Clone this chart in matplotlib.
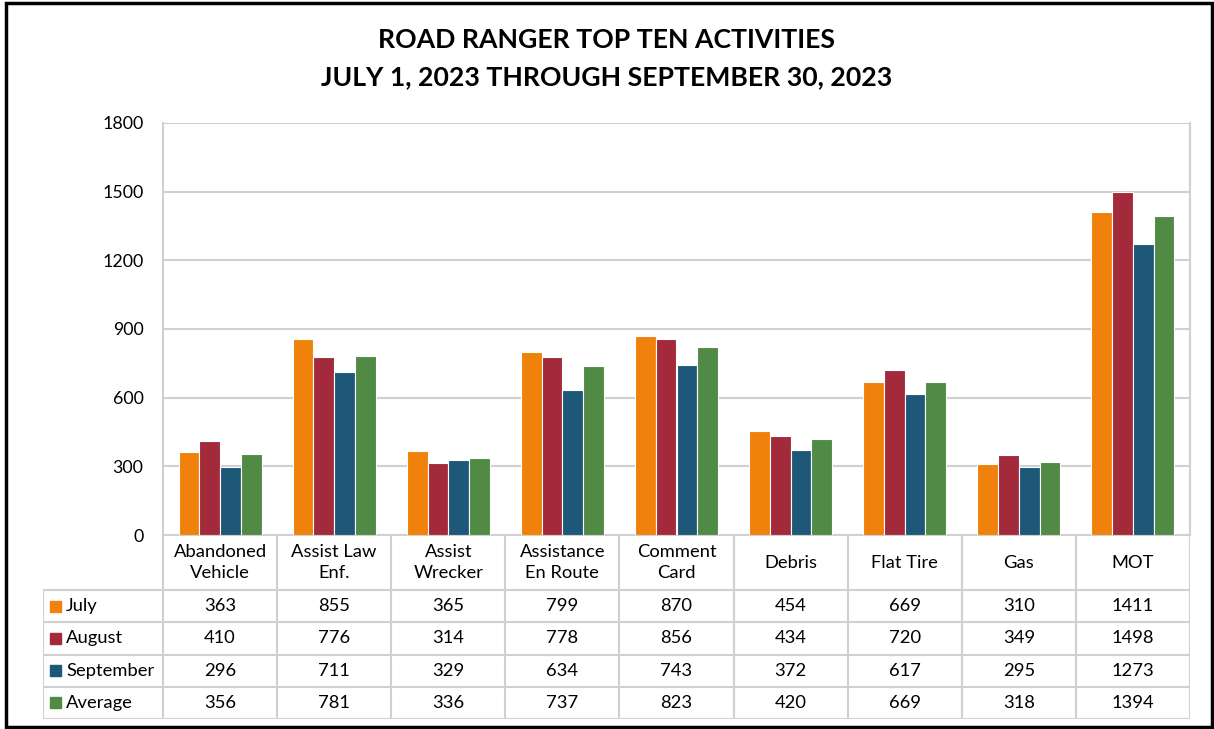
import matplotlib.pyplot as plt
from matplotlib.patches import Rectangle
import numpy as np

plt.rcParams['font.family'] = ['Lato', 'DejaVu Sans']

categories = ['Abandoned\nVehicle', 'Assist Law\nEnf.', 'Assist\nWrecker', 'Assistance\nEn Route',
              'Comment\nCard', 'Debris', 'Flat Tire', 'Gas', 'MOT']
series_names = ['July', 'August', 'September', 'Average']
july = [363, 855, 365, 799, 870, 454, 669, 310, 1411]
august = [410, 776, 314, 778, 856, 434, 720, 349, 1498]
september = [296, 711, 329, 634, 743, 372, 617, 295, 1273]
average = [356, 781, 336, 737, 823, 420, 669, 318, 1394]
series = [july, august, september, average]
colors = ['#F0820B', '#A22A3A', '#1E5878', '#508A45']
yticks = [0, 300, 600, 900, 1200, 1500, 1800]

W, H = 1214, 729
fig = plt.figure(figsize=(W / 100, H / 100), dpi=100)

# outer frame
fig.patches.append(Rectangle((6 / W, 2 / H), (W - 8) / W, (H - 5) / H, transform=fig.transFigure,
                             fill=False, edgecolor='black', linewidth=2.5))

grid_c = '#D0D0D0'
px_l, px_r, px_t, px_b = 163, 1190, 123, 535
ax = fig.add_axes([px_l / W, 1 - px_b / H, (px_r - px_l) / W, (px_b - px_t) / H])

n = len(categories)
x = np.arange(n)
bw = 0.182
for i, (vals, c) in enumerate(zip(series, colors)):
    ax.bar(x + (i - 1.5) * bw, vals, bw, color=c, edgecolor='white', linewidth=0.8, zorder=3)

ax.set_xlim(-0.5, n - 0.5)
ax.set_ylim(0, 1800)
ax.set_yticks(yticks)
ax.set_yticklabels([str(v) for v in yticks], fontsize=12.8)
ax.tick_params(axis='y', length=0, pad=14)
ax.set_xticks([])
ax.grid(axis='y', color=grid_c, linewidth=1.5, zorder=0)
for s in ax.spines.values():
    s.set_color(grid_c)
    s.set_linewidth(1.5)
ax.spines['top'].set_visible(False)

fig.text(0.5, 1 - 40 / H, 'ROAD RANGER TOP TEN ACTIVITIES', ha='center', va='center',
         fontsize=19.2, fontweight='bold')
fig.text(0.5, 1 - 77 / H, 'JULY 1, 2023 THROUGH SEPTEMBER 30, 2023', ha='center', va='center',
         fontsize=19.2, fontweight='bold')

# data table
tl, tb = 43, 719
cat_px = (px_r - px_l) / n
tab = fig.add_axes([tl / W, 1 - tb / H, (px_r - tl) / W, (tb - px_b) / H])
left_x = -0.5 - (px_l - tl) / cat_px
tab.set_xlim(left_x, n - 0.5)
tab.set_ylim(tb - px_b, 0)
tab.axis('off')
head_h = 55
row_h = (tb - px_b - head_h) / 4
lc = grid_c
lw = 1.5
fs = 13.2
# header row
for k in range(n + 1):
    tab.plot([k - 0.5, k - 0.5], [0, head_h], color=lc, lw=lw)
for k, name in enumerate(categories):
    tab.text(k, head_h / 2, name, ha='center', va='center', fontsize=fs, linespacing=1.4)
# body rows
for r in range(5):
    yy = head_h + r * row_h
    tab.plot([left_x, n - 0.5], [yy, yy], color=lc, lw=lw)
for xx in [left_x] + [k - 0.5 for k in range(n + 1)]:
    tab.plot([xx, xx], [head_h, head_h + 4 * row_h], color=lc, lw=lw)
for r, (name, vals, c) in enumerate(zip(series_names, series, colors)):
    yc = head_h + (r + 0.5) * row_h
    tab.add_patch(Rectangle((left_x + 7 / cat_px, yc - 5.5), 11 / cat_px, 11, color=c))
    tab.text(left_x + 23 / cat_px, yc, name, ha='left', va='center', fontsize=fs)
    for k, v in enumerate(vals):
        tab.text(k, yc, str(v), ha='center', va='center', fontsize=fs)

fig.savefig('out.png', dpi=100)
